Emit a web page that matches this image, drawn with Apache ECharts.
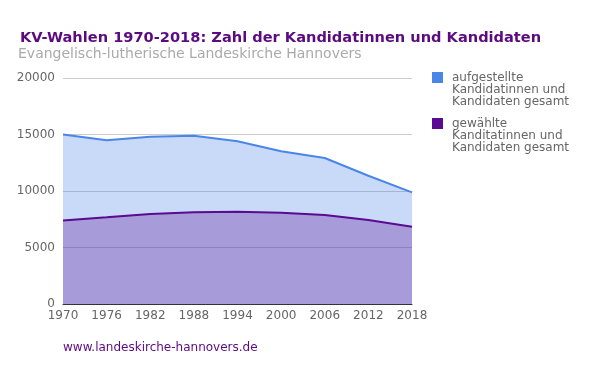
<!DOCTYPE html>
<html>
<head>
<meta charset="utf-8">
<script src="https://cdn.jsdelivr.net/npm/echarts@6/dist/echarts.min.js"></script>
<style>html,body{margin:0;padding:0;background:#fff}#c{width:600px;height:371px}</style>
</head>
<body>
<div id="c"></div>
<script>
const years = ['1970','1976','1982','1988','1994','2000','2006','2012','2018'];
const aufgestellt = [15000, 14500, 14800, 14880, 14400, 13520, 12920, 11350, 9880];
const gewaehlt = [7400, 7670, 7960, 8110, 8170, 8080, 7880, 7430, 6840];
const seriesNames = ['aufgestellte\nKandidatinnen und\nKandidaten gesamt', 'gewählte\nKanditatinnen und\nKandidaten gesamt'];
const seriesColors = ['#4a86e8', '#5b0a91'];
const titleText = 'KV-Wahlen 1970-2018: Zahl der Kandidatinnen und Kandidaten';
const subtitleText = 'Evangelisch-lutherische Landeskirche Hannovers';
const footerText = 'www.landeskirche-hannovers.de';

const font = '"DejaVu Sans"';
const chart = echarts.init(document.getElementById('c'), null, {renderer: 'canvas'});

const legendGraphics = [];
seriesNames.forEach((n, i) => {
  legendGraphics.push({type: 'rect', left: 432, top: 72 + i * 46, shape: {width: 11, height: 11}, style: {fill: seriesColors[i]}});
  legendGraphics.push({type: 'text', left: 452, top: 72 + i * 46, style: {text: n, font: '12px ' + font, fill: '#666', lineHeight: 12}});
});

chart.setOption({
  animation: false,
  title: [
    {text: titleText, left: 15, top: 26,
      textStyle: {fontFamily: font, fontSize: 14.6, fontWeight: 'bold', color: '#5c0a80'}},
    {text: subtitleText, left: 13, top: 42,
      textStyle: {fontFamily: font, fontSize: 14, fontWeight: 'normal', color: '#aaaaaa'}}
  ],
  grid: {left: 63, right: 188, top: 78, bottom: 67},
  xAxis: {
    type: 'category', data: years, boundaryGap: false,
    axisLine: {lineStyle: {color: '#333', width: 1}},
    axisTick: {show: false},
    axisLabel: {fontFamily: font, fontSize: 12, color: '#666', margin: 6, showMinLabel: true, showMaxLabel: true, interval: 0},
    splitLine: {show: false}
  },
  yAxis: {
    type: 'value', min: 0, max: 20000, interval: 5000,
    axisLine: {show: false}, axisTick: {show: false},
    axisLabel: {fontFamily: font, fontSize: 12, color: '#666', margin: 8, formatter: v => String(v)},
    splitLine: {lineStyle: {color: '#cccccc'}}
  },
  series: [
    {name: seriesNames[0], type: 'line', data: aufgestellt, symbol: 'none',
      lineStyle: {color: seriesColors[0], width: 2}, itemStyle: {color: seriesColors[0]},
      areaStyle: {color: seriesColors[0], opacity: 0.3}, z: 2},
    {name: seriesNames[1], type: 'line', data: gewaehlt, symbol: 'none',
      lineStyle: {color: seriesColors[1], width: 2}, itemStyle: {color: seriesColors[1]},
      areaStyle: {color: seriesColors[1], opacity: 0.3}, z: 3}
  ],
  graphic: legendGraphics.concat([
    {type: 'text', left: 63, top: 342, style: {text: footerText, font: '12px ' + font, fill: '#5c0a80'}}
  ])
});
</script>
</body>
</html>
